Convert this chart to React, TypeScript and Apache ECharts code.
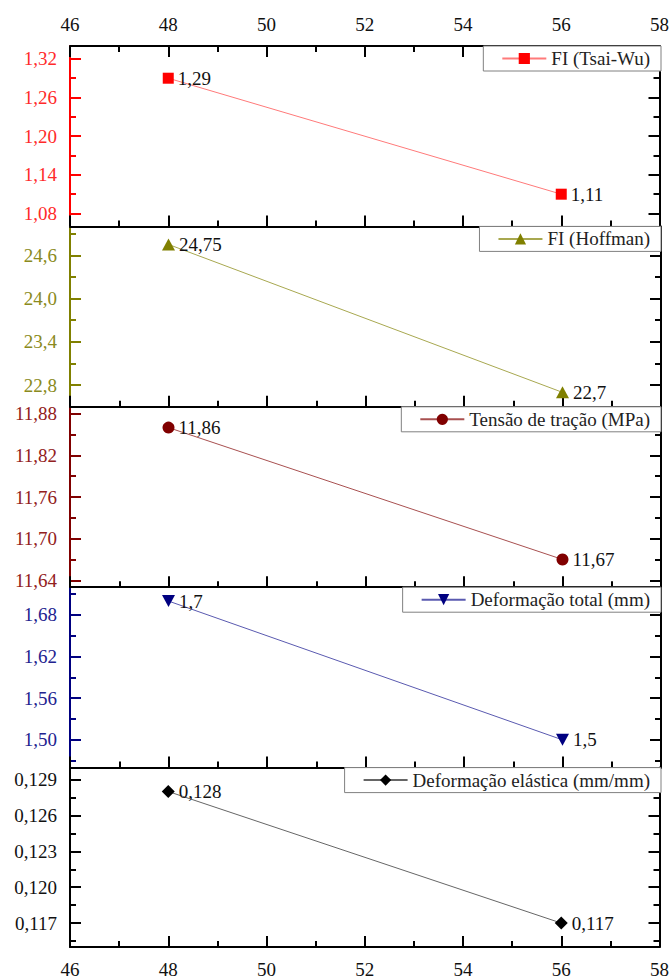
import React, { useEffect, useRef } from "react";
import * as echarts from "echarts";

// ---- data ----
const xValues = [48, 56];
const seriesNames = [
  "FI (Tsai-Wu)",
  "FI (Hoffman)",
  "Tensão de tração (MPa)",
  "Deformação total (mm)",
  "Deformação elástica (mm/mm)",
];
const tsaiWu = [1.29, 1.11];
const hoffman = [24.75, 22.7];
const tensao = [11.86, 11.67];
const defTotal = [1.7, 1.5];
const defElastica = [0.128, 0.117];
const seriesValues = [tsaiWu, hoffman, tensao, defTotal, defElastica];

const xRange = [46, 58];
const xStep = 2;
const xMinorTicks = [47, 49, 51, 53, 55, 57];

const yRanges = [
  [1.06, 1.34],
  [22.5, 25.0],
  [11.63, 11.89],
  [1.46, 1.72],
  [0.115, 0.13],
];
const yMajorTicks = [
  [1.08, 1.14, 1.2, 1.26, 1.32],
  [22.8, 23.4, 24.0, 24.6],
  [11.64, 11.7, 11.76, 11.82, 11.88],
  [1.5, 1.56, 1.62, 1.68],
  [0.117, 0.12, 0.123, 0.126, 0.129],
];
const yMinorTicks = [
  [1.11, 1.17, 1.23, 1.29],
  [23.1, 23.7, 24.3, 24.9],
  [11.67, 11.73, 11.79, 11.85],
  [1.47, 1.53, 1.59, 1.65, 1.71],
  [0.1155, 0.1185, 0.1215, 0.1245, 0.1275],
];
const yDecimals = [2, 1, 2, 2, 3];

// ---- styles ----
const FONT = "Liberation Serif";
const colors = ["#FF0000", "#808000", "#800000", "#000080", "#000000"];
const labelColors = ["#FF2a2a", "#8a8a20", "#922020", "#22228f", "#111111"];
const lineColors = ["#ff7a7a", "#a8a850", "#a85050", "#5a5ab0", "#666666"];
const symbols = ["rect", "triangle", "circle", "triangle", "diamond"];
const symbolSizes: any[] = [11, [13, 12], 12, [13, 12], 13];
const symbolRotates = [0, 0, 0, 180, 0];

const LEFT = 70;
const RIGHT = 11;
const TOP = 46;
const PANEL_H = 180.4;
const FS = 19;

const fmt = (v: number, d: number) => v.toFixed(d).replace(".", ",");

function buildOption() {
  const grid: any[] = [];
  const xAxis: any[] = [];
  const yAxis: any[] = [];
  const legend: any[] = [];
  const series: any[] = [];
  const n = seriesNames.length;

  const xMajor = (i: number, pos: string, showLabel: boolean, margin: number) => ({
    type: "value",
    gridIndex: i,
    position: pos,
    min: xRange[0],
    max: xRange[1],
    interval: xStep,
    axisLine: { show: true, onZero: false, lineStyle: { color: "#000", width: 2 } },
    axisTick: { show: true, inside: true, length: 11, lineStyle: { color: "#000", width: 2 } },
    axisLabel: { show: showLabel, margin, fontSize: FS, fontFamily: FONT, color: "#111" },
    splitLine: { show: false },
  });
  const xMinor = (i: number, pos: string) => ({
    type: "value",
    gridIndex: i,
    position: pos,
    min: xRange[0],
    max: xRange[1],
    axisLine: { show: false, onZero: false },
    axisTick: { show: true, inside: true, length: 6, customValues: xMinorTicks, lineStyle: { color: "#000", width: 2 } },
    axisLabel: { show: false },
    splitLine: { show: false },
  });

  for (let i = 0; i < n; i++) {
    const top = TOP + i * PANEL_H;
    grid.push({ left: LEFT, right: RIGHT, top, height: PANEL_H });
    xAxis.push(xMajor(i, "bottom", i === n - 1, 13));

    const [mn, mx] = yRanges[i];
    const c = colors[i];
    const common = {
      type: "value",
      gridIndex: i,
      min: mn,
      max: mx,
      splitLine: { show: false },
    };
    yAxis.push({
      ...common,
      position: "left",
      axisLine: { show: true, onZero: false, lineStyle: { color: c, width: 2 } },
      axisTick: { show: true, inside: true, length: 11, customValues: yMajorTicks[i], lineStyle: { color: c, width: 2 } },
      axisLabel: {
        show: true,
        customValues: yMajorTicks[i],
        formatter: (v: number) => fmt(v, yDecimals[i]),
        color: labelColors[i],
        fontSize: FS,
        fontFamily: FONT,
        margin: 13,
      },
    });
    yAxis.push({
      ...common,
      position: "left",
      axisLine: { show: false },
      axisTick: { show: true, inside: true, length: 6, customValues: yMinorTicks[i], lineStyle: { color: c, width: 2 } },
      axisLabel: { show: false },
    });
    yAxis.push({
      ...common,
      position: "right",
      axisLine: { show: true, onZero: false, lineStyle: { color: "#000", width: 2 } },
      axisTick: { show: true, inside: true, length: 11, customValues: yMajorTicks[i], lineStyle: { color: "#000", width: 2 } },
      axisLabel: { show: false },
    });
    yAxis.push({
      ...common,
      position: "right",
      axisLine: { show: false },
      axisTick: { show: true, inside: true, length: 6, customValues: yMinorTicks[i], lineStyle: { color: "#000", width: 2 } },
      axisLabel: { show: false },
    });

    legend.push({
      show: true,
      data: [seriesNames[i]],
      right: RIGHT,
      top,
      orient: "horizontal",
      padding: [3, 11, 3, 18],
      itemWidth: 44,
      itemHeight: 14,
      itemGap: 0,
      backgroundColor: "#fff",
      borderColor: "#808080",
      borderWidth: 1,
      borderRadius: 0,
      selectedMode: false,
      textStyle: { fontSize: FS, fontFamily: FONT, color: "#222" },
    });

    const vals = seriesValues[i];
    series.push({
      type: "line",
      name: seriesNames[i],
      xAxisIndex: i,
      yAxisIndex: i * 4,
      data: xValues.map((x, j) => [x, vals[j]]),
      symbol: symbols[i],
      symbolSize: symbolSizes[i],
      symbolRotate: symbolRotates[i],
      itemStyle: { color: c },
      lineStyle: { color: lineColors[i], width: 1 },
      label: {
        show: true,
        position: "right",
        distance: 4,
        formatter: (p: any) => String(p.value[1]).replace(".", ","),
        fontSize: FS,
        fontFamily: FONT,
        color: "#111",
      },
      emphasis: { disabled: true },
      silent: true,
      z: 3,
    });
  }
  // top axis of first panel
  xAxis.push(xMajor(0, "top", true, 12));
  xAxis.push(xMinor(0, "top"));
  for (let i = 0; i < n; i++) xAxis.push(xMinor(i, "bottom"));

  return {
    animation: false,
    backgroundColor: "#fff",
    textStyle: { fontFamily: FONT },
    grid,
    xAxis,
    yAxis,
    legend,
    series,
  };
}

export default function App() {
  const ref = useRef<HTMLDivElement>(null);
  useEffect(() => {
    document.body.style.margin = "0";
    if (!ref.current) return;
    const chart = echarts.init(ref.current, null, { renderer: "svg" });
    chart.setOption(buildOption() as any);
    return () => chart.dispose();
  }, []);
  return (
    <div
      ref={ref}
      style={{ position: "absolute", left: 0, top: 0, width: 672, height: 979 }}
    />
  );
}
